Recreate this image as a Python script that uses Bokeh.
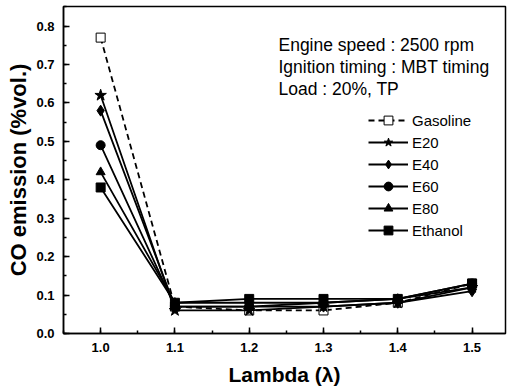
from bokeh.plotting import figure
from bokeh.embed import file_html
from bokeh.resources import INLINE
from bokeh.models import Label, Range1d, SingleIntervalTicker, NumeralTickFormatter, Legend

lam = [1.0, 1.1, 1.2, 1.3, 1.4, 1.5]
gasoline = [0.77, 0.07, 0.06, 0.06, 0.08, 0.13]
e20 = [0.62, 0.06, 0.06, 0.07, 0.08, 0.12]
e40 = [0.58, 0.07, 0.07, 0.07, 0.08, 0.11]
e60 = [0.49, 0.07, 0.07, 0.08, 0.09, 0.13]
e80 = [0.42, 0.08, 0.08, 0.08, 0.09, 0.12]
ethanol = [0.38, 0.08, 0.09, 0.09, 0.09, 0.13]

series = [
    ("Gasoline", gasoline, "square", "white", "6 4"),
    ("E20", e20, "star", "black", "solid"),
    ("E40", e40, "diamond", "black", "solid"),
    ("E60", e60, "circle", "black", "solid"),
    ("E80", e80, "triangle", "black", "solid"),
    ("Ethanol", ethanol, "square", "black", "solid"),
]

p = figure(width=507, height=392, output_backend="svg", toolbar_location=None,
           x_range=Range1d(0.95, 1.545), y_range=Range1d(0.0, 0.851),
           min_border_left=63, min_border_right=2, min_border_top=6, min_border_bottom=59)
p.background_fill_color = "white"
p.border_fill_color = "white"
p.outline_line_color = "black"
p.outline_line_width = 1.5
p.grid.visible = False

items = []
for name, vals, marker, fill, dash in series:
    r1 = p.line(lam, vals, line_color="black", line_width=1.8, line_dash=dash)
    sz = 12 if marker == "star" else (11 if marker == "diamond" else 9)
    r2 = p.scatter(lam, vals, marker=marker, size=sz, fill_color=fill,
                   line_color="black", line_width=1.0)
    items.append((name, [r1, r2]))

legend = Legend(items=items, location=(305, 92), orientation="vertical")
legend.background_fill_alpha = 0
legend.border_line_color = None
legend.padding = 0
legend.margin = 0
legend.spacing = 0
legend.glyph_width = 40
legend.glyph_height = 22
legend.label_height = 22
legend.label_standoff = 4
legend.label_text_font = "Liberation Sans"
legend.label_text_font_size = "15px"
legend.label_text_color = "black"
p.add_layout(legend, "center")

for ax in (p.xaxis[0], p.yaxis[0]):
    ax.axis_line_color = "black"
    ax.axis_line_width = 1.5
    ax.major_tick_in = 6
    ax.major_tick_out = 0
    ax.minor_tick_in = 3
    ax.minor_tick_out = 0
    ax.major_tick_line_color = "black"
    ax.minor_tick_line_color = "black"
    ax.major_tick_line_width = 1.5
    ax.minor_tick_line_width = 1.5
    ax.major_label_text_font = "Liberation Sans"
    ax.major_label_text_font_style = "bold"
    ax.major_label_text_font_size = "13px"
    ax.major_label_text_color = "black"
    ax.axis_label_text_font = "Liberation Sans"
    ax.axis_label_text_font_style = "bold"
    ax.axis_label_text_font_size = "21px"
    ax.axis_label_text_color = "black"

p.xaxis.ticker = SingleIntervalTicker(interval=0.1, num_minor_ticks=2)
p.yaxis.ticker = SingleIntervalTicker(interval=0.1, num_minor_ticks=2)
p.xaxis.formatter = NumeralTickFormatter(format="0.0")
p.yaxis.formatter = NumeralTickFormatter(format="0.0")
p.xaxis.major_label_standoff = 9
p.yaxis.major_label_standoff = 9
p.xaxis.axis_label = "Lambda (λ)"
p.yaxis.axis_label = "CO emission (%vol.)"
p.xaxis.axis_label_standoff = 8
p.yaxis.axis_label_standoff = 2
p.yaxis.axis_label_text_font_size = "22px"

notes = ["Engine speed : 2500 rpm", "Ignition timing : MBT timing", "Load : 20%, TP"]
note_y = [0.750, 0.693, 0.635]
for t, yy in zip(notes, note_y):
    p.add_layout(Label(x=1.2394, y=yy, text=t, text_font="Liberation Sans",
                       text_font_size="17.5px", text_baseline="middle", text_color="black"))

open("out.html", "w").write(file_html(p, INLINE))
